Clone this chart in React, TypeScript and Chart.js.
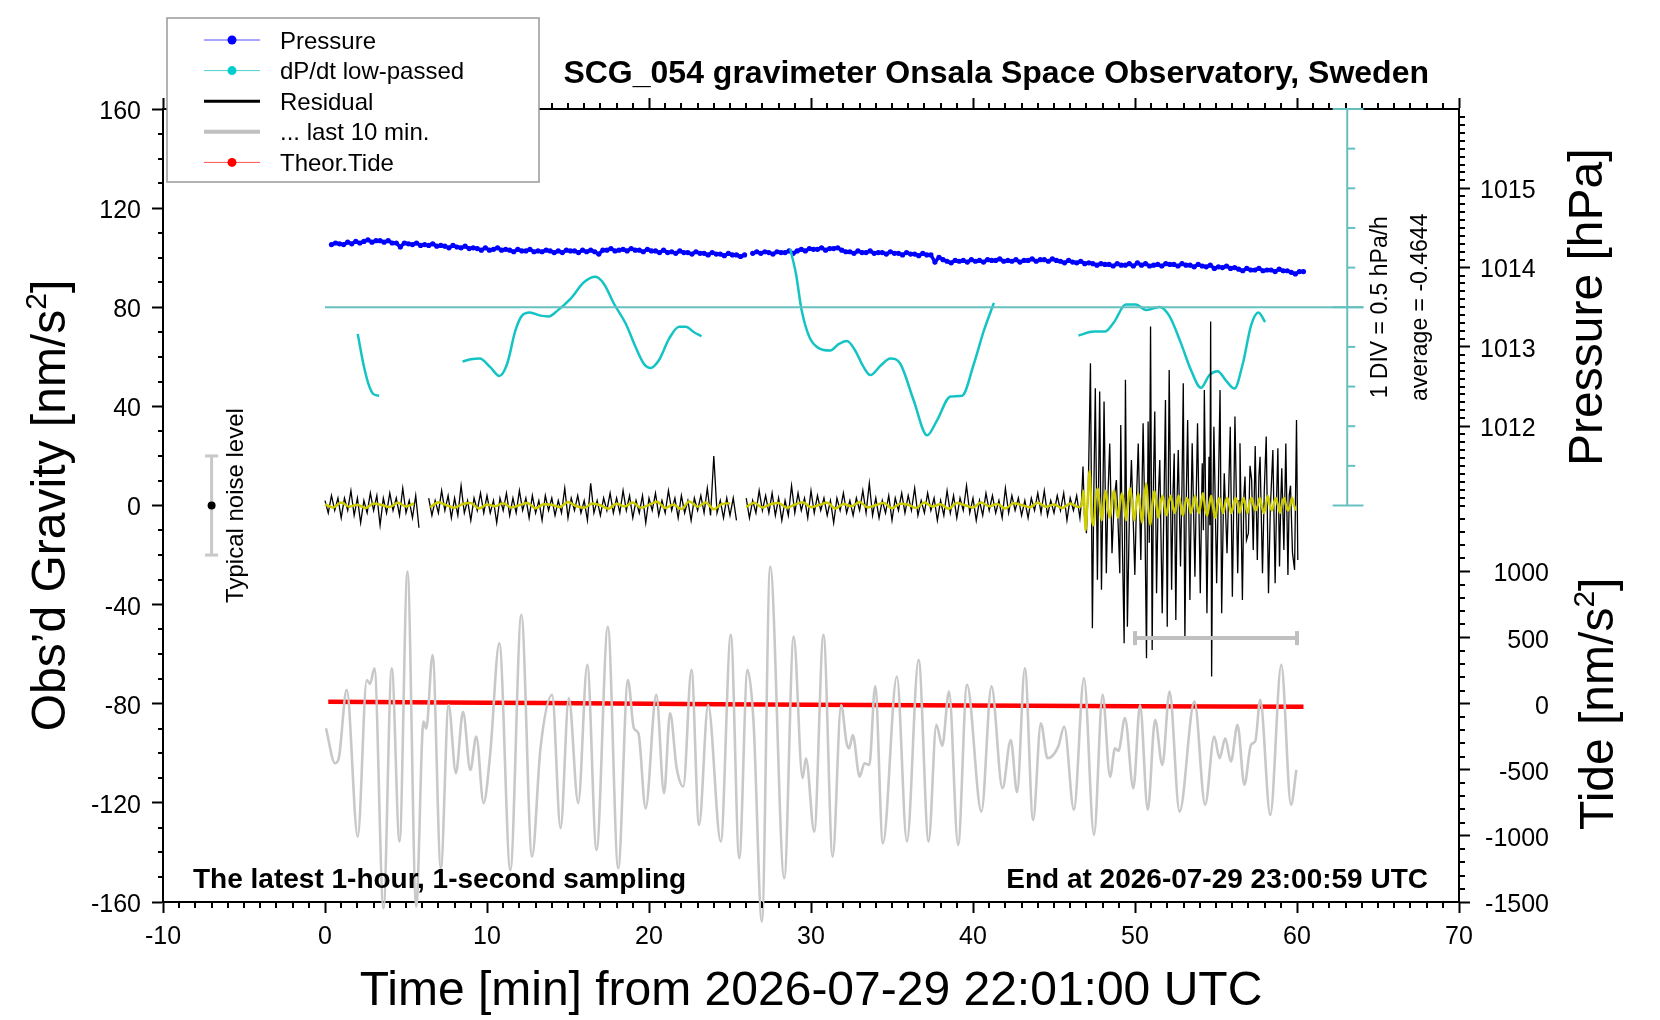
import { useEffect, useRef } from "react";
import { Chart, registerables } from "chart.js";

Chart.register(...registerables);

const FONT = "'Liberation Sans', Arial, Helvetica, sans-serif";

// axes
const TIME_TICKS = [-10, 0, 10, 20, 30, 40, 50, 60, 70];
const GRAVITY_TICKS = [-160, -120, -80, -40, 0, 40, 80, 120, 160];
const PRESSURE_TICKS = [1012, 1013, 1014, 1015];
const TIDE_TICKS = [-1500, -1000, -500, 0, 500, 1000];
const PRESSURE_MIN = 1011;
const PRESSURE_MAX = 1016;
const TIDE_MIN = -1500;
const TIDE_MAX = 1500;
const DPDT_AVERAGE = -0.4644;
const DPDT_DIV = 0.5;

const TITLE = "SCG_054 gravimeter Onsala Space Observatory, Sweden";
const NOTE_LEFT = "The latest 1-hour, 1-second sampling";
const NOTE_RIGHT = "End at 2026-07-29 23:00:59 UTC";
const TIME_TITLE = "Time [min] from 2026-07-29 22:01:00 UTC";
const LEGEND_LABELS = ["Pressure", "dP/dt low-passed", "Residual", "... last 10 min.", "Theor.Tide"];

// pressure [hPa], 4 samples per minute starting at 0.4 min
const PRESSURE_ROWS = [
  [1014.29, 1014.31, 1014.30, 1014.29], [1014.32, 1014.30, 1014.33, 1014.31], [1014.33, 1014.35, 1014.32, 1014.34],
  [1014.34, 1014.32, 1014.34, 1014.31], [1014.31, 1014.26, 1014.31, 1014.30], [1014.29, 1014.31, 1014.28, 1014.29],
  [1014.28, 1014.30, 1014.27, 1014.28], [1014.27, 1014.25, 1014.28, 1014.26], [1014.25, 1014.27, 1014.24, 1014.25],
  [1014.24, 1014.22, 1014.25, 1014.22], [1014.23, 1014.25, 1014.22, 1014.23], [1014.22, 1014.20, 1014.23, 1014.21],
  [1014.21, 1014.23, 1014.20, 1014.21], [1014.20, 1014.22, 1014.21, 1014.19], [1014.21, 1014.19, 1014.22, 1014.21],
  [1014.21, 1014.19, 1014.22, 1014.20], [1014.22, 1014.20, 1014.17, 1014.22], [1014.22, 1014.24, 1014.21, 1014.22],
  [1014.23, 1014.21, 1014.24, 1014.22], [1014.22, 1014.20, 1014.23, 1014.21], [1014.21, 1014.19, 1014.22, 1014.19],
  [1014.20, 1014.18, 1014.21, 1014.19], [1014.19, 1014.17, 1014.20, 1014.18], [1014.18, 1014.16, 1014.19, 1014.17],
  [1014.17, 1014.15, 1014.18, 1014.16], [1014.16, 1014.14, 1014.16, null], [1014.18, 1014.20, 1014.18, 1014.20],
  [1014.19, 1014.17, 1014.20, 1014.19], [1014.19, 1014.21, 1014.18, 1014.21], [1014.23, 1014.21, 1014.24, 1014.23],
  [1014.23, 1014.25, 1014.22, 1014.24], [1014.24, 1014.25, 1014.22, 1014.20], [1014.20, 1014.18, 1014.21, 1014.19],
  [1014.19, 1014.21, 1014.18, 1014.19], [1014.19, 1014.17, 1014.20, 1014.18], [1014.18, 1014.16, 1014.19, 1014.17],
  [1014.17, 1014.15, 1014.18, 1014.16], [1014.16, 1014.07, 1014.13, 1014.10], [1014.08, 1014.06, 1014.09, 1014.08],
  [1014.09, 1014.07, 1014.10, 1014.08], [1014.09, 1014.07, 1014.10, 1014.09], [1014.09, 1014.11, 1014.08, 1014.09],
  [1014.08, 1014.10, 1014.07, 1014.09], [1014.09, 1014.11, 1014.08, 1014.10], [1014.10, 1014.08, 1014.11, 1014.09],
  [1014.08, 1014.06, 1014.09, 1014.07], [1014.06, 1014.08, 1014.05, 1014.06], [1014.05, 1014.03, 1014.05, 1014.04],
  [1014.04, 1014.02, 1014.05, 1014.03], [1014.03, 1014.05, 1014.02, 1014.06], [1014.03, 1014.05, 1014.02, 1014.03],
  [1014.04, 1014.02, 1014.05, 1014.04], [1014.04, 1014.02, 1014.05, 1014.03], [1014.03, 1014.01, 1014.04, 1014.02],
  [1014.01, 1014.03, 1013.99, 1014.01], [1014.00, 1014.02, 1013.99, 1014.00], [1013.98, 1013.96, 1013.99, 1013.97],
  [1013.97, 1013.99, 1013.96, 1013.97], [1013.97, 1013.95, 1013.98, 1013.96], [1013.96, 1013.94, 1013.92, 1013.95],
  [1013.95],
];

// dP/dt low-passed [hPa/h], pieces of [min, value]
const DPDT_SEGMENTS = [
  [[2.02, -0.80], [2.37, -1.18], [2.68, -1.43], [2.99, -1.56], [3.34, -1.58]],
  [[8.49, -1.15], [9.0, -1.12], [9.55, -1.11], [10.2, -1.22], [10.76, -1.33], [11.24, -1.18], [11.75, -0.76],
   [12.16, -0.57], [12.64, -0.53], [13.3, -0.57], [13.81, -0.58], [14.33, -0.51], [15.15, -0.36], [15.98, -0.15],
   [16.7, -0.08], [17.22, -0.17], [17.84, -0.42], [18.56, -0.67], [19.18, -0.97], [19.69, -1.18], [20.1, -1.23],
   [20.62, -1.13], [21.24, -0.86], [21.86, -0.71], [22.27, -0.71], [22.78, -0.78], [23.24, -0.83]],
  [[28.72, 0.27], [29.07, -0.04], [29.42, -0.50], [29.9, -0.84], [30.47, -0.98], [31.19, -1.01], [31.7, -0.93],
   [32.22, -0.89], [32.7, -1.0], [33.25, -1.22], [33.66, -1.32], [34.3, -1.2], [34.9, -1.11], [35.52, -1.18],
   [36.34, -1.64], [37.17, -2.08], [37.78, -1.89], [38.61, -1.59], [39.33, -1.58], [40.05, -1.18], [40.67, -0.76],
   [41.29, -0.41]],
  [[46.51, -0.82], [47.48, -0.77], [48.14, -0.77], [48.71, -0.65], [49.43, -0.43], [50.05, -0.43], [50.67, -0.50],
   [51.5, -0.46], [52.11, -0.57], [52.84, -0.92], [53.46, -1.26], [54.07, -1.48], [54.59, -1.32], [55.1, -1.27],
   [55.62, -1.39], [56.14, -1.49], [56.65, -1.18], [57.17, -0.69], [57.62, -0.53], [58.03, -0.65]],
];

// residual [nm/s2], 5 samples per minute from 0 min (quiet part)
const RESIDUAL_ROWS = [
  [2, -3, 4, -2, 3], [-5, 3, -2, 6, -4], [3, -7, 2, -3, 5], [-2, 4, -8, 3, -3], [5, -2, 3, -4, 7],
  [-3, 2, -5, 4, -9], [null, null, 3, -4, 2], [-3, 6, -2, 4, -5], [3, -4, 8, -3, 2], [-6, 3, -2, 5, -3],
  [4, -3, 2, -7, 3], [-2, 5, -4, 3, -3], [6, -2, 3, -5, 4], [-3, 2, -6, 4, -2], [3, -4, 2, -3, 7],
  [-5, 3, -2, 4, -3], [2, -6, 9, -3, 2], [-4, 3, -2, 5, -3], [3, -3, 6, -2, 4], [-5, 2, -3, 4, -7],
  [3, -2, 5, -4, 2], [-3, 6, -2, 3, -5], [4, -3, 2, -6, 3], [-2, 4, -3, 7, -4], [20, -3, 2, -5, 3],
  [-4, 3, -6, null, null], [3, -5, 2, -3, 6], [-2, 4, -3, 5, -4], [3, -6, 2, -4, 8], [-3, 5, -2, 3, -5],
  [6, -3, 4, -2, 3], [-4, 2, -7, 3, -2], [5, -3, 2, -4, 3], [-2, 6, -3, 9, -4], [3, -5, 2, -3, 4],
  [-6, 3, -2, 5, -3], [4, -2, 7, -4, 2], [-3, 5, -2, 3, -6], [2, -4, 6, -3, 4], [-5, 3, -2, 8, -3],
  [3, -6, 2, -4, 5], [-2, 4, -3, 2, -5], [7, -3, 4, -2, 3], [-4, 2, -5, 3, -2], [5, -3, 6, -4, 2],
  [-3, 4, -2, 5, -6], [3, -2, 4, -5],
];

// residual [min, nm/s2] after the onset at 46.7 min
const RESIDUAL_QUAKE = [
  [46.7, 2], [46.79, 15.7], [46.88, -4], [47.0, -11.2], [47.12, 8], [47.25, 57.4], [47.37, -49.5], [47.46, 6],
  [47.55, 47.3], [47.68, -30], [47.82, 46], [47.93, -34], [48.02, 5], [48.09, 42], [48.23, -27.3], [48.33, 4],
  [48.44, 25], [48.58, -19.3], [48.72, 3], [48.85, 10.3], [48.95, -6], [49.06, -27.3], [49.12, 32.5], [49.2, -8],
  [49.33, -55.6], [49.41, 50.7], [49.53, -48.9], [49.65, -5], [49.78, 18.4], [49.99, -28], [50.1, 4], [50.2, 25],
  [50.36, -22], [50.5, 33.2], [50.62, -10], [50.71, -61.6], [50.81, 33.9], [50.88, -15], [50.96, 72.2],
  [51.06, -58.3], [51.14, 10], [51.22, 37.9], [51.33, -35.4], [51.43, 2], [51.53, 18.4], [51.68, -43.5],
  [51.8, 6], [51.88, 42.6], [51.99, -48.9], [52.11, 54.7], [52.26, -34], [52.35, 6], [52.42, 21], [52.52, -46.2],
  [52.6, 3], [52.67, 22.4], [52.81, -24.6], [52.9, 8], [52.98, 49.3], [53.08, -54.2], [53.17, 5], [53.25, 34.5],
  [53.39, -38.1], [53.47, 2], [53.53, 25.1], [53.7, -28.7], [53.78, 4], [53.86, 33.2], [54.03, -35.4],
  [54.15, 17], [54.22, -10], [54.28, 46.6], [54.44, -43.5], [54.57, 19.7], [54.62, -8], [54.67, 74.2],
  [54.73, -69], [54.8, -5], [54.87, 31.8], [55.04, -31.4], [55.15, 8], [55.25, 46.6], [55.35, -43.5],
  [55.45, -3], [55.51, 13], [55.68, -19.3], [55.78, 5], [55.88, 31.8], [56.01, -36.8], [56.1, 3], [56.17, 35.9],
  [56.34, -27.3], [56.42, 2], [56.48, 25.1], [56.63, -38.1], [56.72, 4], [56.79, 11.7], [56.88, -14],
  [57.0, -11.2], [57.1, 16], [57.2, 10.3], [57.3, -18], [57.42, 24], [57.55, -22], [57.65, 12], [57.72, 19.7],
  [57.87, -27.3], [57.98, 6], [58.1, 27.8], [58.24, -35.4], [58.35, -2], [58.51, 22.4], [58.65, -31.4],
  [58.75, 5], [58.82, 23.1], [58.92, -24.6], [59.0, 2], [59.06, 15], [59.19, -18], [59.31, 25], [59.44, -28],
  [59.52, 4], [59.6, 8], [59.72, -19], [59.85, -26], [59.97, 34.5], [60.05, -22],
];

// smoothed residual (yellow): 2 per minute from 0, then 8 per minute from 46.7
const SMOOTH_ROWS = [
  [0.5, -0.8], [1.2, -0.5], [0.3, -1.0], [0.8, 0.2], [-0.6, 1.1], [-0.4, 0.9], [null, -0.7], [1.3, 0.1],
  [-0.9, 0.6], [1.0, -1.2], [0.4, -0.3], [0.9, -0.8], [0.2, 1.0], [-1.1, 0.5], [0.3, -0.6], [1.4, -0.2],
  [-0.9, 0.8], [0.1, -1.3], [0.7, -0.4], [1.2, -0.9], [0.3, 1.5], [-1.0, 0.4], [-1.4, 1.6], [-0.5, 1.2],
  [-1.5, 0.6], [0.9, null], [-0.6, 1.1], [-0.8, 0.5], [1.0, -0.9], [0.4, 1.3], [-0.7, 0.2], [1.1, -1.2],
  [0.6, -0.3], [1.4, -0.8], [0.2, 1.0], [-1.1, 0.7], [0.3, -1.0], [1.2, -0.4], [0.5, -1.3], [1.0, 0.1],
  [-0.8, 1.2], [-0.3, 0.6], [-1.2, 0.9], [0.2, -0.7], [1.1, -0.5], [0.4, -1.0], [0.8, -0.6],
];
const SMOOTH_QUAKE_ROWS = [
  [0, 6, -10, 2, 14, -4, -8, 3], [7, 0, -6, 1, 6, -1, -5, 2], [6, 0, -5, 1, 5, 0, -6, 2],
  [7, 1, -6, 0, 5, -1, -7, 3], [9, -2, -8, 1, 6, 0, -5, 1], [4, 0, -4, 1, 4, 0, -3, 1],
  [4, 0, -4, 0, 3, 1, -3, 0], [4, 0, -3, 1, 5, -1, -4, 0], [4, -1, -5, 0, 3, 0, -3, 1],
  [3, 0, -3, 0, 3, 1, -3, 0], [3, 0, -3, 1, 3, 0, -2, 0], [3, 0, -3, 0, 4, 0, -2, 1],
  [3, 0, -3, 1, 3, 0, -2, 0], [3, 0, -2],
];

// last 10 minutes stretched over the hour [min, nm/s2]
const LAST10 = [
  [0.06, -89.9], [0.62, -104], [0.85, -102], [1.34, -74.4], [2.02, -133.6], [2.58, -70.4], [2.78, -72],
  [3.05, -65.7], [3.61, -162.5], [4.12, -65.7], [4.6, -135.6], [5.09, -26.7], [5.63, -161.8], [6.08, -87.2],
  [6.25, -90], [6.64, -60.3], [7.15, -146.4], [7.63, -80.5], [8.08, -108], [8.52, -83.2], [8.97, -106.7],
  [9.34, -93.2], [9.79, -120.1], [10.2, -100], [10.76, -55.6], [11.44, -147.1], [12.12, -44.1], [12.78, -141.7],
  [13.3, -98], [14.02, -76.4], [14.54, -130.2], [15.05, -77.8], [15.63, -120.1], [16.19, -64.3], [16.76, -139],
  [17.46, -48.9], [18.1, -146.4], [18.7, -70.4], [19.07, -89.9], [19.35, -92], [19.79, -122.2], [20.45, -76.4],
  [20.93, -116.1], [21.3, -83.8], [21.71, -106], [22.12, -113.4], [22.62, -66.3], [23.09, -128.9], [23.65, -80.5],
  [24.43, -135.6], [25.05, -52.2], [25.57, -142.3], [26.08, -66.3], [26.45, -87], [26.97, -167.9], [27.48, -24.6],
  [28.35, -150.4], [28.93, -52.9], [29.48, -110], [29.69, -102], [30.2, -131.6], [30.77, -52.2], [31.34, -141.7],
  [31.86, -80.5], [32.2, -96], [32.35, -98], [32.58, -92.6], [33.0, -109.4], [33.3, -104], [33.6, -104.7],
  [33.96, -73], [34.44, -136.3], [35.3, -69], [35.92, -135.6], [36.64, -62.3], [37.26, -135.6], [37.74, -88.5],
  [38.1, -97], [38.52, -75.1], [39.08, -137], [39.63, -72.4], [40.52, -123.5], [41.14, -73], [41.82, -114.1],
  [42.33, -94.6], [42.72, -115.7], [43.2, -65.7], [43.71, -126.9], [44.19, -87.9], [44.6, -102], [45.26, -97.3],
  [45.63, -89.2], [46.23, -122.8], [46.85, -69.7], [47.47, -132.9], [48.0, -76.4], [48.46, -109.4], [48.77, -98],
  [48.98, -99], [49.38, -85.8], [49.9, -114.1], [50.31, -80.5], [50.79, -122.8], [51.24, -86.5], [51.69, -104.7],
  [52.13, -75.1], [52.75, -123.5], [53.67, -79.1], [54.33, -120.8], [54.89, -93.2], [55.22, -102], [55.57, -93.9],
  [55.92, -103.3], [56.33, -88.5], [56.75, -112.7], [57.16, -96.6], [57.43, -95], [57.73, -78.4], [58.35, -124.9],
  [59.03, -64.3], [59.63, -120.8], [59.96, -106.7],
];

// theoretical tide [min, nm/s2]
const TIDE = [[0.2, 15], [10, 8], [13.5, 5], [20, 0], [24.3, -3], [30, -8], [40, -13], [50, -18], [60.4, -22]];

const NOISE_AT = -7;
const NOISE_HALF = 20;
const LAST10_SPAN = [50, 60];
const LAST10_LEVEL = -53.5;
const DPDT_SCALE_AT = 63.1;
const DPDT_LONG_TICK = [62.2, 64.1];

const range = (a: number, b: number, step: number) =>
  Array.from({ length: Math.round((b - a) / step) + 1 }, (_, i) => +(a + i * step).toFixed(4));
const X_MINOR = range(-10, 70, 1).filter((v) => v % 10 !== 0);
const G_MINOR = range(-160, 160, 10).filter((v) => v % 40 !== 0);
const P_MINOR = range(PRESSURE_MIN + 0.1, PRESSURE_MAX - 0.1, 0.1).filter((v) => !PRESSURE_TICKS.includes(v));
const T_MINOR = range(-1400, 1500, 100).filter((v) => !TIDE_TICKS.includes(v));

const rows = (data: (number | null)[][], start: number, rowStep: number, step: number) =>
  data.flatMap((row, r) => row.map((v, k) => ({ x: +(start + r * rowStep + k * step).toFixed(3), y: v })));
const pairs = (data: number[][]) => data.map(([x, y]) => ({ x, y }));

function seg(ctx: CanvasRenderingContext2D, x1: number, y1: number, x2: number, y2: number) {
  ctx.beginPath();
  ctx.moveTo(x1, y1);
  ctx.lineTo(x2, y2);
  ctx.stroke();
}

type Part = [string, boolean?];
function rich(ctx: CanvasRenderingContext2D, parts: Part[], x: number, y: number, size: number,
  o: { bold?: boolean; align?: string; rotate?: boolean } = {}) {
  const w = o.bold ? "bold " : "";
  const sup = Math.round(size * 0.62);
  ctx.save();
  ctx.translate(x, y);
  if (o.rotate) ctx.rotate(-Math.PI / 2);
  ctx.textAlign = "left";
  ctx.textBaseline = "alphabetic";
  ctx.fillStyle = "#000";
  const widths = parts.map(([s, up]) => {
    ctx.font = `${w}${up ? sup : size}px ${FONT}`;
    return ctx.measureText(s).width;
  });
  const total = widths.reduce((a, b) => a + b, 0);
  let cx = o.align === "center" ? -total / 2 : o.align === "right" ? -total : 0;
  parts.forEach(([s, up], i) => {
    ctx.font = `${w}${up ? sup : size}px ${FONT}`;
    ctx.fillText(s, cx, up ? -size * 0.4 : 0);
    cx += widths[i];
  });
  ctx.restore();
}

const decor = {
  id: "decor",
  afterDatasetsDraw(chart: any) {
    const { ctx, chartArea: a, scales } = chart;
    const x = scales.x, g = scales.y, p = scales.yP, t = scales.yT, d = scales.yD;
    ctx.save();
    ctx.strokeStyle = "#000";
    ctx.lineWidth = 2;
    for (const v of X_MINOR) {
      const px = Math.round(x.getPixelForValue(v));
      seg(ctx, px, a.bottom, px, a.bottom + 6);
      seg(ctx, px, a.top, px, a.top - 6);
    }
    for (const v of G_MINOR) {
      const py = Math.round(g.getPixelForValue(v));
      seg(ctx, a.left - 5, py, a.left, py);
    }
    for (const v of P_MINOR) {
      const py = Math.round(p.getPixelForValue(v));
      seg(ctx, a.right, py, a.right + 6, py);
    }
    for (const v of T_MINOR) {
      const py = Math.round(t.getPixelForValue(v));
      seg(ctx, a.right, py, a.right + 6, py);
    }
    // tide labels, right aligned
    ctx.fillStyle = "#000";
    ctx.font = `25px ${FONT}`;
    ctx.textAlign = "right";
    ctx.textBaseline = "middle";
    for (const v of TIDE_TICKS) ctx.fillText(String(v), a.right + 90, t.getPixelForValue(v) + 3);

    // dP/dt scale
    ctx.strokeStyle = "#66c0c0";
    ctx.lineWidth = 2;
    const yAvg = d.getPixelForValue(DPDT_AVERAGE);
    seg(ctx, x.getPixelForValue(0), yAvg, x.getPixelForValue(DPDT_LONG_TICK[1]), yAvg);
    const sx = x.getPixelForValue(DPDT_SCALE_AT);
    seg(ctx, sx, d.getPixelForValue(DPDT_AVERAGE + 5 * DPDT_DIV), sx, d.getPixelForValue(DPDT_AVERAGE - 5 * DPDT_DIV));
    for (let k = -5; k <= 5; k++) {
      const py = d.getPixelForValue(DPDT_AVERAGE + k * DPDT_DIV);
      if (k % 5 === 0) seg(ctx, x.getPixelForValue(DPDT_LONG_TICK[0]), py, x.getPixelForValue(DPDT_LONG_TICK[1]), py);
      else seg(ctx, sx, py, sx + 8, py);
    }

    // typical noise level
    const nx = x.getPixelForValue(NOISE_AT);
    ctx.strokeStyle = "#c8c8c8";
    ctx.lineWidth = 3;
    const n1 = g.getPixelForValue(NOISE_HALF), n2 = g.getPixelForValue(-NOISE_HALF);
    seg(ctx, nx, n1, nx, n2);
    seg(ctx, nx - 6.5, n1, nx + 6.5, n1);
    seg(ctx, nx - 6.5, n2, nx + 6.5, n2);
    ctx.fillStyle = "#000";
    ctx.beginPath();
    ctx.arc(nx, g.getPixelForValue(0), 4, 0, Math.PI * 2);
    ctx.fill();

    // last 10 minutes bracket
    ctx.strokeStyle = "#c0c0c0";
    ctx.lineWidth = 4;
    const by = g.getPixelForValue(LAST10_LEVEL);
    const b1 = x.getPixelForValue(LAST10_SPAN[0]), b2 = x.getPixelForValue(LAST10_SPAN[1]);
    seg(ctx, b1, by, b2, by);
    seg(ctx, b1, by - 7, b1, by + 7);
    seg(ctx, b2, by - 7, b2, by + 7);
    ctx.restore();

    // texts
    rich(ctx, [["Typical noise level"]], 243, g.getPixelForValue(0), 24, { align: "center", rotate: true });
    rich(ctx, [["1 DIV = 0.5 hPa/h"]], 1387, yAvg, 23, { align: "center", rotate: true });
    rich(ctx, [[`average = ${DPDT_AVERAGE}`]], 1427, yAvg, 23, { align: "center", rotate: true });
    rich(ctx, [[NOTE_LEFT]], a.left + 30, a.bottom - 14, 28, { bold: true });
    rich(ctx, [[NOTE_RIGHT]], a.right - 31, a.bottom - 14, 28, { bold: true, align: "right" });
    rich(ctx, [[TITLE]], a.right - 30, 83, 32, { bold: true, align: "right" });
    rich(ctx, [[TIME_TITLE]], (a.left + a.right) / 2, 1005, 48, { align: "center" });
    rich(ctx, [["Obs\u2019d Gravity [nm/s"], ["2", true], ["]"]], 65, (a.top + a.bottom) / 2, 48, { align: "center", rotate: true });
    rich(ctx, [["Pressure [hPa]"]], 1602, (p.top + p.bottom) / 2, 48, { align: "center", rotate: true });
    rich(ctx, [["Tide [nm/s"], ["2", true], ["]"]], 1613, (t.top + t.bottom) / 2, 48, { align: "center", rotate: true });
  },
  afterDraw(chart: any) {
    const { ctx } = chart;
    ctx.save();
    ctx.fillStyle = "#fff";
    ctx.fillRect(167, 18, 372, 164);
    ctx.strokeStyle = "#999";
    ctx.lineWidth = 1.5;
    ctx.strokeRect(167, 18, 372, 164);
    const styles = [
      { line: "#5050ff", w: 1, dot: "#0000ff" },
      { line: "#50d0d0", w: 1, dot: "#00cccc" },
      { line: "#000", w: 3, dot: null },
      { line: "#c0c0c0", w: 4, dot: null },
      { line: "#ff5050", w: 1, dot: "#ff0000" },
    ];
    LEGEND_LABELS.forEach((label, i) => {
      const y = 40 + i * 30.6;
      const s = styles[i];
      ctx.strokeStyle = s.line;
      ctx.lineWidth = s.w;
      seg(ctx, 204, y, 260, y);
      if (s.dot) {
        ctx.fillStyle = s.dot;
        ctx.beginPath();
        ctx.arc(232, y, 4.5, 0, Math.PI * 2);
        ctx.fill();
      }
      ctx.fillStyle = "#000";
      ctx.font = `24px ${FONT}`;
      ctx.textBaseline = "middle";
      ctx.textAlign = "left";
      ctx.fillText(label, 280, y + 2);
    });
    ctx.restore();
  },
};

const tickFont = { family: FONT, size: 25 };
const frame = { color: "#000", width: 2 };
const grid = { drawOnChartArea: false, tickLength: 11, tickWidth: 2, tickColor: "#000" };
const setTicks = (list: number[]) => (s: any) => { s.ticks = list.map((value) => ({ value })); };
const label = (v: any) => String(v);

export default function App() {
  const canvasRef = useRef<HTMLCanvasElement>(null);

  useEffect(() => {
    document.body.style.margin = "0";
    if (!canvasRef.current) return;

    const dpdt: any[] = [];
    DPDT_SEGMENTS.forEach((s, i) => {
      if (i) dpdt.push({ x: s[0][0] - 0.01, y: null });
      dpdt.push(...pairs(s));
    });

    const chart = new Chart(canvasRef.current, {
      type: "line",
      data: {
        datasets: [
          {
            label: "smoothed", order: 0, borderColor: "#cccc00", borderWidth: 2.4, pointRadius: 0,
            cubicInterpolationMode: "monotone",
            data: [...rows(SMOOTH_ROWS, 0, 1, 0.5), ...rows(SMOOTH_QUAKE_ROWS, 46.7, 1, 0.125)],
          },
          {
            label: "Residual", order: 1, borderColor: "#000", borderWidth: 1.3, pointRadius: 0,
            data: [...rows(RESIDUAL_ROWS, 0, 1, 0.2), ...pairs(RESIDUAL_QUAKE)],
          },
          {
            label: "... last 10 min.", order: 2, borderColor: "#c8c8c8", borderWidth: 2.6, pointRadius: 0,
            cubicInterpolationMode: "monotone", clip: false, data: pairs(LAST10),
          },
          {
            label: "Theor.Tide", order: 3, yAxisID: "yT", borderColor: "#ff0000", borderWidth: 4.5, pointRadius: 0,
            data: pairs(TIDE),
          },
          {
            label: "dP/dt low-passed", order: 4, yAxisID: "yD", borderColor: "#14c4c4", borderWidth: 2.5, pointRadius: 0,
            cubicInterpolationMode: "monotone", data: dpdt,
          },
          {
            label: "Pressure", order: 5, yAxisID: "yP", borderColor: "#0000ff", borderWidth: 3.5,
            pointRadius: 2.6, pointBorderWidth: 0, pointBackgroundColor: "#0000ff",
            data: rows(PRESSURE_ROWS, 0.4, 1, 0.25),
          },
        ],
      } as any,
      options: {
        animation: false,
        responsive: true,
        maintainAspectRatio: false,
        events: [],
        layout: { padding: { top: 109, left: 0, right: 0, bottom: 0 } },
        plugins: { legend: { display: false }, tooltip: { enabled: false } },
        scales: {
          x: {
            type: "linear", position: "bottom", min: -10, max: 70, afterBuildTicks: setTicks(TIME_TICKS),
            ticks: { font: tickFont, color: "#000", padding: 9, maxRotation: 0, autoSkip: false, callback: label },
            grid, border: frame, afterFit: (s: any) => { s.height = 118; },
          },
          x2: {
            type: "linear", position: "top", min: -10, max: 70, afterBuildTicks: setTicks(TIME_TICKS),
            ticks: { display: false }, grid, border: frame, afterFit: (s: any) => { s.height = 0; },
          },
          y: {
            position: "left", min: -160, max: 160, afterBuildTicks: setTicks(GRAVITY_TICKS),
            ticks: { font: tickFont, color: "#000", padding: 11, labelOffset: 3, autoSkip: false, callback: label },
            grid, border: frame, afterFit: (s: any) => { s.width = 163; },
          },
          yP: {
            position: "right", stack: "right", stackWeight: 1, weight: 1, min: PRESSURE_MIN, max: PRESSURE_MAX,
            afterBuildTicks: setTicks(PRESSURE_TICKS),
            ticks: { font: tickFont, color: "#000", padding: 10, labelOffset: 3, autoSkip: false, callback: label },
            grid, border: frame, afterFit: (s: any) => { s.width = 201; },
          },
          yT: {
            position: "right", stack: "right", stackWeight: 1, weight: 2, min: TIDE_MIN, max: TIDE_MAX,
            afterBuildTicks: setTicks(TIDE_TICKS),
            ticks: { display: false },
            grid, border: frame, afterFit: (s: any) => { s.width = 201; },
          },
          yD: {
            display: false, position: "right", weight: 3,
            min: DPDT_AVERAGE - 15 * DPDT_DIV, max: DPDT_AVERAGE + 5 * DPDT_DIV,
          },
        },
      } as any,
      plugins: [decor],
    });

    return () => chart.destroy();
  }, []);

  return (
    <div style={{ position: "relative", width: 1660, height: 1020, background: "#fff" }}>
      <canvas ref={canvasRef} />
    </div>
  );
}
